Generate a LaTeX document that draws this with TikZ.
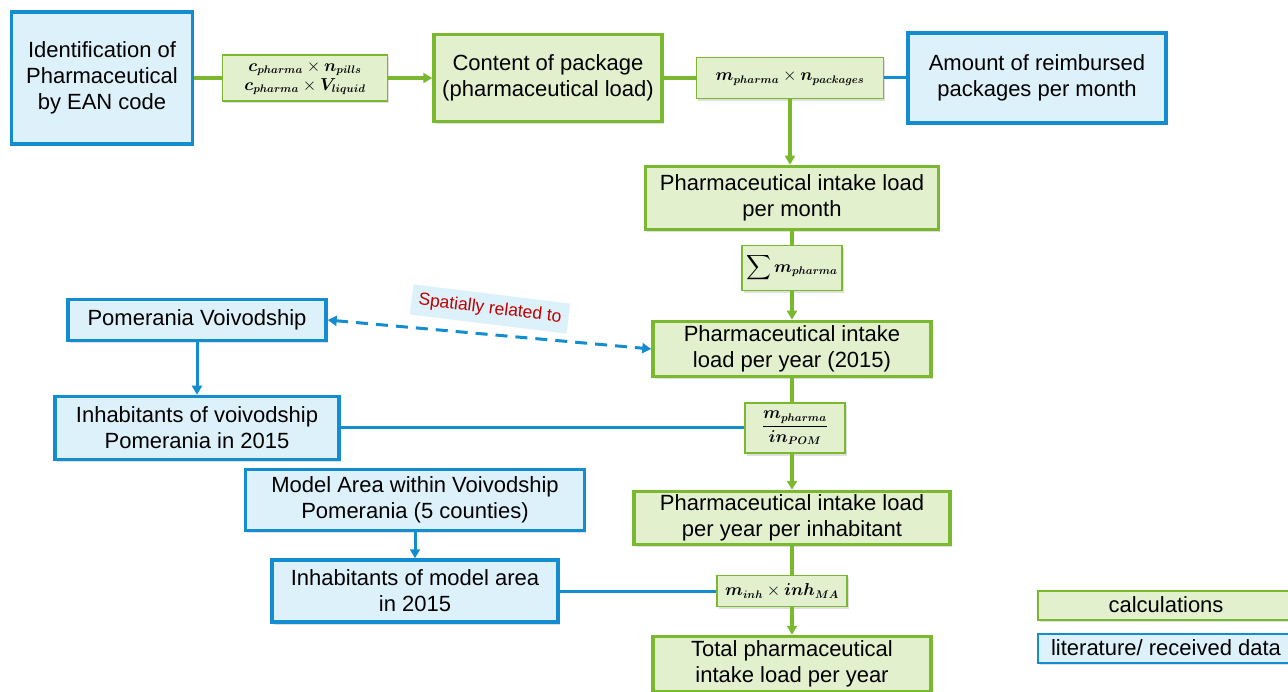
\documentclass[tikz,border=0pt]{standalone}
\usepackage{fontspec}
\setmainfont{Liberation Sans}
\usepackage{amsmath}
\usepackage{bm}
\usetikzlibrary{arrows.meta, shadows}

\definecolor{dblue}{RGB}{20,140,208}
\definecolor{lblue}{RGB}{221,241,251}
\definecolor{dgreen}{RGB}{122,184,48}
\definecolor{lgreen}{RGB}{226,240,206}
\definecolor{dred}{RGB}{192,0,0}

\begin{document}
\begin{tikzpicture}[x=1pt, y=-1pt,
    shade/.style={drop shadow={shadow xshift=1.5pt, shadow yshift=-2.5pt, opacity=0.25}},
    box/.style={draw, line width=3.5pt, align=center, inner sep=2pt, shade, font=\fontsize{22}{26}\selectfont},
    data/.style={box, draw=dblue, fill=lblue},
    calc/.style={box, draw=dgreen, fill=lgreen},
    formula/.style={draw=dgreen, fill=lgreen, line width=1.2pt, align=center, inner sep=2pt, shade, font=\fontsize{16}{19}\selectfont},
    legend/.style={line width=2pt, minimum width=256pt, minimum height=29pt},
    rel/.style={fill=lblue, text=dred, rotate=-7, inner sep=7pt, font=\fontsize{17.5}{20}\selectfont},
    gline/.style={dgreen, line width=3.5pt},
    garrow/.style={gline, -{Triangle[length=9pt, width=10pt]}},
    bline/.style={dblue, line width=3pt},
    barrow/.style={bline, -{Triangle[length=9pt, width=10pt]}}
]
    \useasboundingbox (0,0) rectangle (1288,692);
    \clip (0,0) rectangle (1288,692);

    \node[data, minimum width=181pt, minimum height=132pt] (ident) at (102,78) {Identification of\\Pharmaceutical\\by EAN code};
    \node[calc, minimum width=228pt, minimum height=87pt] (content) at (548,78) {Content of package\\(pharmaceutical load)};
    \node[data, minimum width=258pt, minimum height=90pt] (amount) at (1037,78) {Amount of reimbursed\\packages per month};
    \node[calc, minimum width=293pt, minimum height=63pt] (month) at (792,198) {Pharmaceutical intake load\\per month};
    \node[calc, minimum width=278pt, minimum height=55pt] (year) at (792,349) {Pharmaceutical intake\\load per year (2015)};
    \node[calc, minimum width=316pt, minimum height=53pt] (perinh) at (792,518) {Pharmaceutical intake load\\per year per inhabitant};
    \node[calc, minimum width=278pt, minimum height=55pt] (total) at (792,664) {Total pharmaceutical\\intake load per year};

    \node[data, minimum width=258pt, minimum height=41pt] (pomer) at (197,320) {Pomerania Voivodship};
    \node[data, minimum width=284pt, minimum height=63pt] (inhvoi) at (197,428) {Inhabitants of voivodship\\Pomerania in 2015};
    \node[data, minimum width=339pt, minimum height=61pt] (model) at (415,500) {Model Area within Voivodship\\Pomerania (5 counties)};
    \node[data, minimum width=286pt, minimum height=62pt] (inhma) at (415,591) {Inhabitants of model area\\in 2015};

    \node[formula, minimum width=165pt, minimum height=46pt] (f1) at (305,78) {$\bm{c_{pharma}}\times\bm{n_{pills}}$\\$\bm{c_{pharma}}\times\bm{V_{liquid}}$};
    \node[formula, minimum width=187pt, minimum height=41pt] (f2) at (790,78) {$\bm{m_{pharma}}\times\bm{n_{packages}}$};
    \node[formula, minimum width=100pt, minimum height=45pt] (sum) at (792,268) {$\displaystyle\sum\bm{m_{pharma}}$};
    \node[formula, minimum width=100pt, minimum height=50pt] (f3) at (795,428) {$\dfrac{\bm{m_{pharma}}}{\bm{in_{POM}}}$};
    \node[formula, minimum width=130pt, minimum height=31pt] (f4) at (782,591) {$\bm{m_{inh}}\times\bm{inh_{MA}}$};

    \node[box, legend, draw=dgreen, fill=lgreen] (lcalc) at (1166,605) {calculations};
    \node[box, legend, draw=dblue, fill=lblue] (ldata) at (1166,648) {literature/ received data};

    \draw[gline] (ident) -- (f1);
    \draw[garrow] (f1) -- (content);
    \draw[gline] (content) -- (f2);
    \draw[bline] (f2) -- (amount);
    \draw[garrow] (f2.south) -- (f2.south |- month.north);
    \draw[gline] (month) -- (sum);
    \draw[garrow] (sum) -- (year);
    \draw[gline] (year.south) -- (year.south |- f3.north);
    \draw[garrow] (year.south |- f3.south) -- (perinh);
    \draw[gline] (perinh.south) -- (perinh.south |- f4.north);
    \draw[garrow] (perinh.south |- f4.south) -- (total);

    \draw[barrow] (pomer) -- (inhvoi);
    \draw[bline] (inhvoi) -- (f3);
    \draw[barrow] (model) -- (inhma);
    \draw[bline] (inhma) -- (f4);
    \draw[bline, dash pattern=on 12pt off 8pt, {Triangle[length=9pt, width=10pt]}-{Triangle[length=9pt, width=10pt]}] (pomer.east) -- (year.west)
        node[rel] at (490,309) {Spatially related to};
\end{tikzpicture}
\end{document}
